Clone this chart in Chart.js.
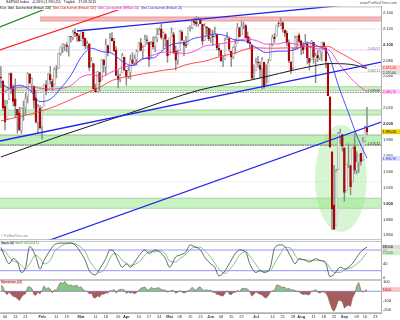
<!DOCTYPE html>
<html>
<head>
<meta charset="utf-8">
<script src="https://cdn.jsdelivr.net/npm/chart.js@4.4.1/dist/chart.umd.min.js"></script>
<style>
html,body{margin:0;padding:0;background:#fff;}
#wrap{position:relative;width:400px;height:320px;overflow:hidden;background:#fff;font-family:"Liberation Sans","DejaVu Sans",Arial,sans-serif;}
#wrap canvas{position:absolute;left:0;}
.t{position:absolute;white-space:nowrap;line-height:1;}
</style>
</head>
<body>
<div id="wrap">
  <canvas id="cMain" width="400" height="241" style="top:0px"></canvas>
  <canvas id="cSto" width="400" height="39" style="top:241px"></canvas>
  <canvas id="cMom" width="400" height="40" style="top:280px"></canvas>
  <div class="t" style="left:6px;top:1px;font-size:3.6px;color:#111">S&amp;P500 Index&nbsp;&nbsp;&nbsp;-0,26% (1.990,20)&nbsp;&nbsp;&nbsp;Täglich&nbsp;&nbsp;&nbsp;17.09.2015</div>
  <div class="t" style="right:3px;top:2px;font-size:3.6px;color:#555">www.ProRealTime.com</div>
  <div class="t" style="left:0;top:6.8px;font-size:3px;background:#fff;padding-right:1px">
    <span style="color:#000">Kurs</span>&nbsp;
    <span style="color:#000">Gleit. Durchschnitt (Einfach 200)</span>&nbsp;
    <span style="color:#e00000">Gleit. Durchschnitt (Einfach 100)</span>&nbsp;
    <span style="color:#e000c0">Gleit. Durchschnitt (Einfach 50)</span>&nbsp;
    <span style="color:#2020e0">Gleit. Durchschnitt (Einfach 20)</span>
  </div>
  <div class="t" style="left:1px;top:235px;font-size:3px;color:#888">© ProRealTime.com</div>
  <div class="t" style="left:1px;top:241.8px;font-size:3px;">
    <span style="color:#000;background:#e6e6e6">Stoch %K</span>&nbsp;<span style="color:#2a8a2a">Stoch %D(14,3,5)</span>
  </div>
  <div class="t" style="left:1px;top:280.8px;font-size:3px;color:#c00000;background:#f8dede">Momentum (12)</div>
</div>
<script>
// ---------------- DATA ----------------
// S&P 500 daily candles, 02.01.2015 (index 0) .. 17.09.2015 (index 178)
const opens = [2058.90,2054.44,2022.15,2005.55,2030.61,2063.45,2046.13,2031.58,2018.40,2013.75,1992.25,2020.76,2020.19,2034.30,2062.98,2050.42,2047.86,2032.34,2002.45,2019.35,
1996.67,2022.71,2048.86,2043.45,2062.28,2053.47,2049.38,2068.55,2069.98,2088.78,2096.47,2099.16,2099.25,2097.65,2109.83,2109.10,2115.30,2113.91,2110.88,
2105.23,2115.76,2107.72,2098.54,2100.91,2072.25,2076.14,2044.69,2041.10,2064.56,2055.35,2080.59,2072.84,2098.69,2090.32,2107.99,2103.94,2093.10,2059.94,2055.78,2064.11,2084.05,
2067.63,2060.03,2064.87,2080.79,2076.94,2081.29,2091.51,2102.03,2092.28,2097.82,2105.96,2102.58,2084.11,2102.82,2098.27,2107.21,2112.80,2119.29,2108.35,2112.49,2105.52,
2087.38,2110.23,2112.63,2091.26,2079.96,2092.13,2115.56,2102.87,2099.62,2100.43,2122.07,2121.30,2129.45,2127.79,2125.55,2130.36,2125.34,2105.13,2122.27,2120.66,
2108.64,2110.41,2110.64,2112.35,2095.09,2092.34,2079.07,2081.12,2106.24,2107.43,2091.34,2084.26,2097.40,2101.58,2121.06,2112.50,2123.16,2123.65,2109.96,2102.62,2098.63,2061.19,
2067.00,2078.03,2073.95,2069.52,2077.66,2049.73,2052.74,2080.03,2099.72,2109.02,2110.55,2126.80,2126.85,2127.55,2118.21,2114.16,2102.24,2078.19,2070.75,2094.70,2106.78,2111.60,
2104.49,2097.68,2095.27,2100.75,2082.61,2080.98,2102.66,2081.10,2086.19,2083.15,2089.70,2101.99,2095.69,2076.61,2034.08,1965.15,1898.08,1872.75,1942.77,1986.06,1986.73,
1970.09,1916.52,1950.79,1947.76,1927.30,1971.45,1941.59,1951.45,1963.06,1955.10,1978.02,1995.33];
const highs = [2072.36,2054.44,2030.25,2029.61,2064.08,2064.43,2049.30,2056.93,2018.40,2021.35,2020.46,2028.94,2038.29,2064.62,2062.98,2057.62,2047.86,2042.49,2024.64,2023.32,
2021.66,2050.30,2054.74,2063.55,2072.40,2056.16,2070.86,2073.48,2088.53,2097.03,2101.30,2100.23,2102.13,2110.61,2110.05,2117.94,2119.59,2113.91,2112.74,
2117.52,2115.76,2107.72,2104.25,2100.91,2083.49,2076.14,2050.08,2066.41,2064.56,2081.41,2080.59,2106.85,2098.69,2113.92,2114.86,2107.63,2097.43,2067.15,2062.83,2088.97,2084.05,
2067.63,2072.17,2086.99,2089.81,2086.69,2093.31,2102.61,2107.65,2098.62,2111.91,2111.30,2102.58,2103.94,2109.64,2109.98,2120.49,2120.92,2125.92,2116.04,2113.65,2105.52,
2108.41,2120.95,2115.24,2098.42,2092.90,2117.66,2117.69,2105.06,2110.19,2121.45,2123.89,2131.78,2133.02,2134.72,2134.28,2132.15,2125.34,2126.22,2122.27,2120.66,
2119.15,2117.59,2121.92,2112.89,2100.99,2093.01,2085.62,2108.50,2115.02,2107.43,2091.34,2097.40,2106.79,2126.65,2121.64,2129.87,2128.03,2125.10,2116.04,2108.92,2098.63,2074.28,
2082.78,2085.06,2078.61,2083.74,2077.66,2074.28,2081.31,2100.67,2111.98,2114.14,2124.42,2128.91,2132.82,2128.49,2118.51,2116.87,2106.01,2078.19,2095.60,2110.60,2110.48,2114.24,
2105.70,2102.51,2112.66,2103.32,2082.61,2105.35,2102.66,2089.06,2092.93,2092.45,2102.87,2103.47,2096.17,2076.61,2034.08,1965.15,1948.04,1943.09,1989.60,1993.48,1986.73,
1970.09,1948.91,1975.01,1947.76,1970.42,1988.63,1965.29,1961.05,1963.06,1983.19,1997.26,2020.86];
const lows = [2046.04,2017.34,1992.44,2005.55,2030.61,2038.33,2022.58,2008.25,1988.44,1991.47,1988.12,2004.49,2012.04,2026.38,2050.54,2040.97,2019.91,2001.49,1989.18,1993.38,
1980.90,2022.71,2036.72,2043.45,2049.97,2041.88,2048.62,2057.99,2069.98,2086.70,2089.80,2092.15,2090.79,2085.44,2103.00,2105.87,2109.89,2103.76,2103.75,
2104.50,2098.26,2094.49,2095.22,2067.27,2072.21,2044.16,2039.69,2041.10,2041.17,2055.35,2065.08,2061.23,2085.56,2090.32,2104.42,2091.50,2061.05,2045.50,2052.96,2064.11,2067.04,
2048.38,2057.32,2056.52,2076.10,2073.30,2074.29,2091.51,2092.33,2083.24,2097.82,2100.02,2072.37,2084.11,2094.38,2091.05,2103.19,2112.80,2107.04,2094.89,2097.41,2077.59,
2087.38,2110.23,2088.46,2067.93,2074.99,2092.13,2104.58,2085.57,2096.04,2100.43,2116.81,2120.01,2124.50,2122.59,2122.95,2126.06,2099.18,2105.13,2112.86,2104.89,
2102.54,2099.14,2109.61,2093.23,2085.67,2079.11,2072.14,2081.12,2106.24,2091.33,2072.49,2082.10,2088.86,2101.58,2109.45,2112.50,2119.89,2108.58,2101.81,2095.38,2056.64,2056.32,
2067.00,2071.02,2058.40,2044.02,2044.66,2049.73,2052.74,2080.03,2098.18,2102.49,2110.55,2122.06,2123.66,2115.40,2110.00,2098.63,2077.09,2063.52,2069.09,2094.08,2094.97,2102.07,
2087.31,2088.60,2095.27,2075.53,2067.91,2080.98,2076.49,2052.09,2078.26,2080.61,2079.30,2094.14,2070.53,2035.73,1970.89,1867.01,1867.08,1872.75,1942.77,1975.19,1965.98,
1903.07,1916.52,1944.72,1911.21,1927.30,1937.88,1937.19,1939.19,1948.27,1954.30,1977.93,1986.73];
const closes = [2058.20,2020.58,2002.61,2025.90,2062.14,2044.81,2028.26,2023.03,2011.27,1992.67,2019.42,2022.55,2032.12,2063.15,2051.82,2057.09,2029.55,2002.16,2021.25,1994.99,
2020.85,2050.03,2041.51,2062.52,2055.47,2046.74,2068.59,2068.53,2088.48,2096.99,2100.34,2099.68,2097.45,2110.30,2109.66,2115.48,2113.86,2110.74,2104.50,
2117.39,2107.78,2098.53,2101.04,2071.26,2079.43,2044.16,2040.24,2065.95,2053.40,2081.19,2074.28,2099.50,2089.27,2108.10,2104.42,2091.50,2061.05,2056.15,2061.02,2086.24,2067.89,
2059.69,2066.96,2080.62,2076.33,2081.90,2091.18,2102.06,2092.43,2095.84,2106.63,2104.99,2081.18,2100.40,2097.29,2107.96,2112.93,2117.69,2108.92,2114.76,2106.85,2085.51,
2108.29,2114.49,2089.46,2080.15,2088.00,2116.10,2105.33,2099.12,2098.48,2121.10,2122.73,2129.20,2127.83,2125.85,2130.82,2126.06,2104.20,2123.48,2120.79,2107.39,
2111.73,2109.60,2114.07,2095.84,2092.83,2079.28,2080.15,2105.20,2108.86,2094.11,2084.43,2096.29,2100.44,2121.24,2109.99,2122.85,2124.20,2108.58,2102.31,2101.49,2057.64,2063.11,
2077.42,2076.78,2068.76,2081.34,2046.68,2051.31,2076.62,2099.60,2108.95,2107.40,2124.29,2126.64,2128.28,2119.21,2114.15,2102.15,2079.65,2067.64,2093.25,2108.57,2108.63,2103.84,
2098.04,2093.32,2099.84,2083.56,2077.57,2104.18,2084.07,2086.05,2083.39,2091.54,2102.44,2096.92,2079.61,2035.73,1970.89,1893.21,1867.61,1940.51,1987.66,1988.87,1972.18,
1913.85,1948.86,1951.13,1921.22,1969.41,1942.04,1952.29,1961.05,1953.03,1978.09,1995.31,1990.20];

// moving averages read at sample days
const ma20Idx = [0,4,9,14,19,24,29,34,39,44,49,54,59,64,69,74,79,84,89,94,99,104,109,114,119,124,129,134,139,144,149,154,159,164,169,174,178];
const ma20Val = [2052.9,2045.1,2048.8,2043.0,2028.2,2031.2,2044.7,2061.1,2084.0,2095.3,2091.1,2089.0,2078.7,2073.4,2082.3,2083.1,2093.4,2101.0,2102.3,2107.8,2110.2,2113.1,2111.3,2105.6,2104.4,2096.3,2089.9,2091.5,2091.7,2094.5,2102.2,2098.1,2088.9,2049.0,2013.8,1979.4,1956.7];
const ma50Idx = ma20Idx;
const ma50Val = [2037.7,2043.8,2045.9,2046.9,2045.0,2043.9,2044.7,2048.3,2059.0,2062.0,2059.7,2065.8,2071.0,2074.2,2081.4,2086.6,2090.4,2090.2,2088.7,2091.5,2098.0,2099.8,2101.8,2104.4,2106.9,2105.1,2100.4,2100.6,2102.6,2099.8,2097.2,2094.6,2093.7,2077.2,2060.9,2047.8,2040.7];
const ma100Idx = [0,12,24,36,49,54,59,64,69,74,79,84,89,94,99,104,109,114,119,124,129,134,139,144,149,154,159,164,169,174,178];
const ma100Val = [2004,2011,2020,2033,2047.5,2054.8,2058.4,2060.6,2063.2,2065.2,2067.6,2069.2,2073.8,2076.8,2078.9,2082.8,2086.4,2089.3,2094.1,2095.8,2095.4,2095.4,2095.7,2095.7,2097.6,2097.2,2097.7,2090.8,2083.9,2076.5,2071.2];
const ma200Idx = [0,30,63,97,121,150,160,170,178];
const ma200Val = [1958.5,1986,2014,2043,2055,2072,2076,2075,2070];

// drawn trend lines: [day, price] end points
const trendGreen = [[-0.44,2122],[26,2149.2]];
const trendRed = [[-0.44,2093.1],[63,2148.8]];
const trendBlueTop = [[37,2117],[170,2150.2]];
const trendBlueMid = [[-0.44,1978.6],[185.3,2078.1]];
const trendBlueLow = [[20,1850.5],[185.3,2002.9]];

// support / resistance zones
const zoneTop = [2134.6,2046.9,2017.6,1986.2,1906.7];
const zoneBottom = [2129.6,2041.9,2011.3,1973.6,1894.0];
const zoneStart = [19,-1,-1,-1,-1];
// horizontal levels
const levelVals = [2119.6,2093.0,2073.0,2065.1,2039.66,1973.32,1927.4];
const levelTexts = ['','2.096,57','','2.065,11','2.039,66','1.973,32',''];
// ellipse around the August low: centre [day, price] and radii
const ellipseCenter = [165.3,1931.4];
const ellipseRadius = [12.6,67.3];

// axis ticks
const priceTicks = [1860,1880,1900,1920,1940,1960,1980,2000,2020,2040,2060,2080,2100,2120,2140];
const tickIdx = [2,7,12,20,27,32,39,46,51,57,61,67,72,77,82,87,92,97,102,107,112,117,124,132,137,142,146,152,157,162,167,173,177,182];
const tickLbl = ['06','13','21','Feb','11','19','Mar','11','18','26','Apr','10','17','24','Mai','08','15','22','Jun','08','15','22','Jul','14','21','28','Aug','11','18','25','Sep','09','16','23'];

// Stochastic (14,3,5) read at sample days
const stochIdx = [0,2,4,6,8,10,12,14,17,19,21,24,26,29,31,34,36,38,41,43,46,48,51,53,55,57,59,61,63,65,68,70,72,75,77,80,82,85,87,90,92,94,97,99,102,104,106,109,111,114,116,119,121,124,126,128,131,133,136,138,141,143,145,148,150,153,155,158,160,162,165,167,170,172,175,177,178];
const stochK = [87,60,40,55,45,15,30,90,60,25,50,80,95,100,100,100,95,80,50,20,8,25,55,80,75,50,30,40,30,45,70,80,70,80,75,55,30,60,65,75,95,90,80,60,40,30,5,20,40,70,80,75,40,15,20,15,30,85,95,90,60,40,55,50,45,55,50,40,3,10,30,25,35,50,75,85,88];
const stochD = [80,75,60,48,45,35,25,40,65,55,40,50,75,90,97,100,98,92,75,50,25,15,30,55,70,65,50,42,35,38,50,65,75,75,78,68,48,45,55,68,80,88,88,78,60,42,25,12,22,45,65,75,62,38,22,18,20,40,70,88,85,65,52,52,50,50,50,45,28,15,15,22,28,35,50,65,72];
const stochLevels = [20,80];
const stochTicks = [0,20,40,60,80,100];

// Momentum (12), one value per day
const mom = [68.6,47.8,-10.3,-35.3,-8.5,-33.7,-53.9,-58.9,-77.5,-97.9,
-60.9,-36.4,-26.1,42.6,49.2,31.2,-32.6,-42.7,-7.0,-28.0,
9.6,57.4,22.1,40.0,23.4,-16.4,16.8,11.4,58.9,94.8,
79.1,104.7,76.6,60.3,68.2,53.0,58.4,64.0,35.9,48.9,
19.3,1.5,0.7,-28.4,-18.0,-66.1,-69.4,-49.5,-60.5,-29.6,
-30.2,-17.9,-18.5,9.6,3.4,20.2,-18.4,12.0,20.8,20.3,
14.5,-21.5,-7.3,-18.9,-12.9,-26.2,-13.2,10.6,31.4,39.7,
45.6,18.8,13.3,40.7,30.3,27.3,36.6,35.8,17.7,12.7,
14.4,-10.3,1.7,9.5,8.3,-20.3,-9.3,8.1,-7.6,-18.6,
-10.4,6.3,15.9,43.7,19.5,11.4,41.4,45.9,16.2,7.4,
15.5,8.3,13.3,-11.5,-8.7,-33.4,-35.0,-46.6,-50.7,-20.9,
4.7,-29.4,-36.4,-11.1,-11.3,11.6,-4.1,27.0,31.4,29.3,
22.2,-3.7,-51.2,-31.0,-7.0,-19.5,-31.7,-39.9,-63.3,-71.5,
-47.6,-9.0,6.6,5.9,66.7,63.5,50.9,42.4,45.4,20.8,
33.0,16.3,16.6,9.0,-0.3,-3.6,-26.3,-33.3,-28.4,-35.7,
-36.6,2.0,4.4,18.4,-9.9,-17.0,-6.2,-6.9,-18.4,-57.6,
-129.0,-190.4,-210.0,-163.7,-96.4,-97.2,-111.2,-177.7,-153.6,-145.8,
-158.4,-66.3,-28.9,59.1,93.4,12.5,-9.6,6.4,18.0];
const momLevels = [0];
const momTicks = [-200,-100,0,100];

// ---------------- LAYOUT / STYLE ----------------
const X_MIN = -0.44, X_MAX = 184.8;
const FONT = '"Liberation Sans", Arial, sans-serif';
const ZONE_STYLE = [
  {fill:'#f8bcbc', line:'#e07a7a'},
  {fill:'#c8f2c2', line:'#8fc48a'},
  {fill:'#c8f2c2', line:'#8fc48a'},
  {fill:'#bdf0b5', line:'#8a9a8a'},
  {fill:'#c8f2c2', line:'#8fc48a'}
];
const LEVEL_STYLE = [
  {c:'#b8b8b8', d:[1,1.5], tc:'#888'},
  {c:'#c78be0', d:[1.2,1.2], tc:'#9a50c0'},
  {c:'#b8b8b8', d:[1,1.5], tc:'#888'},
  {c:'#b8b8b8', d:[1,1.5], tc:'#666'},
  {c:'#555', d:[1.5,1], tc:'#333'},
  {c:'#555', d:[1.5,1], tc:'#333'},
  {c:'#cfcfcf', d:[1,1.5], tc:'#888'}
];

function fmtDE(v, d){
  let s = Math.abs(v).toFixed(d).split('.');
  let i = s[0].replace(/\B(?=(\d{3})+(?!\d))/g, '.');
  return (v < 0 ? '-' : '') + i + (s[1] ? ',' + s[1] : '');
}
function pairs(idx, val){ return idx.map((d, k) => ({x: d, y: val[k]})); }
function seg(p){ return p.map(q => ({x: q[0], y: q[1]})); }
function yAxisFit(s){ s.width = 19; s.paddingTop = 0; s.paddingBottom = 0; }

function drawTags(chart, tags, font){
  const {ctx, chartArea: a, scales: {y}} = chart;
  const items = tags.map(t => Object.assign({}, t, {py: y.getPixelForValue(t.v)})).sort((p, q) => p.py - q.py);
  for (let k = 1; k < items.length; k++) if (items[k].py - items[k-1].py < 5) items[k].py = items[k-1].py + 5;
  ctx.save();
  ctx.font = font + 'px ' + FONT; ctx.textBaseline = 'middle'; ctx.textAlign = 'left';
  items.forEach(t => {
    ctx.fillStyle = t.bg; ctx.fillRect(a.right + 1, t.py - 2.4, 18, 4.8);
    ctx.fillStyle = t.fg; ctx.fillText(t.text, a.right + 1.8, t.py + 0.2);
  });
  ctx.restore();
}
function panelFrame(chart, top){
  const {ctx, chartArea: a} = chart;
  ctx.save(); ctx.strokeStyle = '#b0b0b0'; ctx.lineWidth = 0.8;
  ctx.beginPath();
  if (top) { ctx.moveTo(a.left, a.top + 0.4); ctx.lineTo(a.right, a.top + 0.4); }
  ctx.moveTo(a.left, a.bottom - 0.4); ctx.lineTo(a.right, a.bottom - 0.4);
  ctx.stroke(); ctx.restore();
}
function hLines(chart, levels, color){
  const {ctx, chartArea: a, scales: {y}} = chart;
  ctx.save(); ctx.strokeStyle = color; ctx.lineWidth = 0.8;
  levels.forEach(v => { const py = y.getPixelForValue(v); ctx.beginPath(); ctx.moveTo(a.left, py); ctx.lineTo(a.right, py); ctx.stroke(); });
  ctx.restore();
}

const mainDecor = {
  id: 'mainDecor',
  beforeDatasetsDraw(chart){
    const {ctx, chartArea: a, scales: {x, y}} = chart;
    ctx.save();
    ctx.beginPath(); ctx.rect(a.left, a.top, a.right - a.left, a.bottom - a.top); ctx.clip();
    zoneTop.forEach((hi, k) => {
      const x0 = Math.max(a.left, x.getPixelForValue(zoneStart[k]));
      const y0 = y.getPixelForValue(hi), y1 = y.getPixelForValue(zoneBottom[k]);
      ctx.fillStyle = ZONE_STYLE[k].fill; ctx.fillRect(x0, y0, a.right - x0, y1 - y0);
      ctx.strokeStyle = ZONE_STYLE[k].line; ctx.lineWidth = 0.7;
      ctx.beginPath(); ctx.moveTo(x0, y0); ctx.lineTo(a.right, y0); ctx.moveTo(x0, y1); ctx.lineTo(a.right, y1); ctx.stroke();
    });
    const cx = x.getPixelForValue(ellipseCenter[0]), cy = y.getPixelForValue(ellipseCenter[1]);
    const rx = Math.abs(x.getPixelForValue(ellipseCenter[0] + ellipseRadius[0]) - cx);
    const ry = Math.abs(y.getPixelForValue(ellipseCenter[1] + ellipseRadius[1]) - cy);
    ctx.fillStyle = 'rgba(150,228,140,0.38)';
    ctx.beginPath(); ctx.ellipse(cx, cy, rx, ry, 0, 0, Math.PI * 2); ctx.fill();
    levelVals.forEach((v, k) => {
      const py = y.getPixelForValue(v), st = LEVEL_STYLE[k];
      ctx.strokeStyle = st.c; ctx.lineWidth = 0.7; ctx.setLineDash(st.d);
      ctx.beginPath(); ctx.moveTo(a.left, py); ctx.lineTo(a.right, py); ctx.stroke();
    });
    ctx.setLineDash([]);
    ctx.restore();
  },
  afterDatasetsDraw(chart){
    const {ctx, chartArea: a, scales: {y}} = chart;
    ctx.save(); ctx.font = '3.2px ' + FONT; ctx.textAlign = 'right'; ctx.textBaseline = 'bottom';
    levelVals.forEach((v, k) => {
      if (!levelTexts[k]) return;
      ctx.fillStyle = LEVEL_STYLE[k].tc; ctx.fillText(levelTexts[k], a.right - 1, y.getPixelForValue(v) + 0.6);
    });
    ctx.restore();
  },
  afterDraw(chart){
    panelFrame(chart, true);
    drawTags(chart, [
      {v: ma100Val[ma100Val.length-1], bg:'#ffd2d2', fg:'#e00000', text: fmtDE(ma100Val[ma100Val.length-1], 2)},
      {v: ma200Val[ma200Val.length-1], bg:'#e2e2e2', fg:'#333', text: fmtDE(ma200Val[ma200Val.length-1], 2)},
      {v: ma50Val[ma50Val.length-1], bg:'#ffd4f2', fg:'#e000c0', text: fmtDE(ma50Val[ma50Val.length-1], 2)},
      {v: closes[closes.length-1], bg:'#f0cf00', fg:'#000', text: fmtDE(closes[closes.length-1], 2)},
      {v: ma20Val[ma20Val.length-1], bg:'#dcdcff', fg:'#2020e0', text: fmtDE(ma20Val[ma20Val.length-1], 2)}
    ], 3.4);
  }
};

const wickData = closes.map((c, i) => ({x: i, y: [Math.min(lows[i], opens[i], c), Math.max(highs[i], opens[i], c)]}));
const bodyData = closes.map((c, i) => ({x: i, y: [opens[i], c]}));
const isUp = closes.map((c, i) => c >= opens[i]);

const commonX = {type: 'linear', min: X_MIN, max: X_MAX, offset: false, display: false, grid: {display: false}};
const baseOpts = {responsive: false, animation: false, devicePixelRatio: 1, events: [],
  plugins: {legend: {display: false}, tooltip: {enabled: false}}};
function rightAxis(min, max, ticks, fmt, boldEvery){
  return {type: 'linear', position: 'right', min: min, max: max, beginAtZero: false,
    grid: {display: false, drawTicks: false}, border: {display: true, color: '#9c9c9c', width: 0.8},
    afterBuildTicks: s => { s.ticks = ticks.map(v => ({value: v})); },
    afterFit: yAxisFit,
    ticks: {padding: 2, color: '#222', callback: fmt,
      font: c => ({size: 4, family: FONT, weight: (boldEvery && c.tick && c.tick.value % boldEvery === 0) ? 'bold' : 'normal'})}};
}
function lineDs(data, color, width, order){
  return {type: 'line', data: data, borderColor: color, borderWidth: width, pointRadius: 0,
    tension: 0.4, cubicInterpolationMode: 'monotone', fill: false, order: order, clip: 0};
}

new Chart(document.getElementById('cMain'), {
  type: 'bar',
  data: {datasets: [
    lineDs(seg(trendGreen), '#1e8c1e', 1.2, 1),
    lineDs(seg(trendRed), '#ff2222', 1.2, 1),
    lineDs(seg(trendBlueTop), '#2222ee', 1.3, 1),
    lineDs(seg(trendBlueMid), '#2222ee', 1.3, 1),
    lineDs(seg(trendBlueLow), '#2222ee', 1.2, 1),
    lineDs(pairs(ma20Idx, ma20Val), '#3a3aff', 0.9, 3),
    lineDs(pairs(ma50Idx, ma50Val), '#f03cd0', 0.9, 3),
    lineDs(pairs(ma100Idx, ma100Val), '#ff3a3a', 0.9, 3),
    lineDs(pairs(ma200Idx, ma200Val), '#1a1a1a', 1.0, 3),
    {type: 'bar', data: wickData, backgroundColor: '#8c8c8c', barThickness: 0.8, grouped: false, order: 6, clip: 0},
    {type: 'bar', data: bodyData, grouped: false, order: 5, clip: 0, barThickness: 1.8, borderSkipped: false, borderWidth: 0.5,
      backgroundColor: isUp.map(u => u ? '#ececec' : '#c00000'),
      borderColor: isUp.map(u => u ? '#8a8a8a' : '#8a0000')}
  ]},
  options: Object.assign({}, baseOpts, {
    layout: {padding: {top: 6.5, bottom: 1, left: 0, right: 0}},
    scales: {x: commonX, y: rightAxis(1854.1, 2147.8, priceTicks, v => (v / 1000).toFixed(3), 100)}
  }),
  plugins: [mainDecor]
});

new Chart(document.getElementById('cSto'), {
  type: 'line',
  data: {datasets: [
    lineDs(pairs(stochIdx, stochD), '#5cb85c', 0.8, 2),
    lineDs(pairs(stochIdx, stochK), '#404040', 0.8, 1)
  ]},
  options: Object.assign({}, baseOpts, {
    layout: {padding: 0},
    scales: {x: commonX, y: rightAxis(-6.96, 106.1, stochTicks, v => String(v), 0)}
  }),
  plugins: [{id: 'stoDecor',
    beforeDatasetsDraw(chart){ hLines(chart, stochLevels, '#7a7aff'); },
    afterDraw(chart){
      panelFrame(chart, true);
      drawTags(chart, [
        {v: stochK[stochK.length-1], bg:'#dcdcdc', fg:'#000', text: fmtDE(stochK[stochK.length-1], 3)},
        {v: stochD[stochD.length-1], bg:'#cdeecd', fg:'#2a8a2a', text: fmtDE(stochD[stochD.length-1], 3)}
      ], 3.4);
    }}]
});

new Chart(document.getElementById('cMom'), {
  type: 'line',
  data: {datasets: [
    {type: 'line', data: mom.map((v, i) => ({x: i, y: v})), borderColor: '#8a5a5a', borderWidth: 0.6, pointRadius: 0,
      tension: 0, clip: 0, fill: {target: {value: 0}, above: 'rgba(110,190,105,0.85)', below: 'rgba(150,65,65,0.85)'}}
  ]},
  options: Object.assign({}, baseOpts, {
    layout: {padding: 0},
    scales: {
      x: {type: 'linear', min: X_MIN, max: X_MAX, offset: false, position: 'bottom',
        grid: {display: false, drawTicks: false}, border: {display: true, color: '#9c9c9c', width: 0.8},
        afterBuildTicks: s => { s.ticks = tickIdx.map(v => ({value: v})); },
        afterFit: s => { s.height = 7; s.paddingLeft = 0; s.paddingRight = 0; },
        ticks: {autoSkip: false, maxRotation: 0, minRotation: 0, padding: 1.6, color: '#333',
          callback: v => tickLbl[tickIdx.indexOf(v)],
          font: c => ({size: 4, family: FONT, weight: (c.tick && /^[A-Z]/.test(tickLbl[tickIdx.indexOf(c.tick.value)] || '')) ? 'bold' : 'normal'})}},
      y: rightAxis(-228.4, 119, momTicks, v => String(v), 0)
    }
  }),
  plugins: [{id: 'momDecor',
    beforeDatasetsDraw(chart){ hLines(chart, momLevels, '#7a7aff'); },
    afterDraw(chart){
      panelFrame(chart, true);
      drawTags(chart, [{v: mom[mom.length-1], bg:'#f6c6c6', fg:'#c00000', text: fmtDE(mom[mom.length-1], 2)}], 3.4);
    }}]
});
</script>
</body>
</html>
